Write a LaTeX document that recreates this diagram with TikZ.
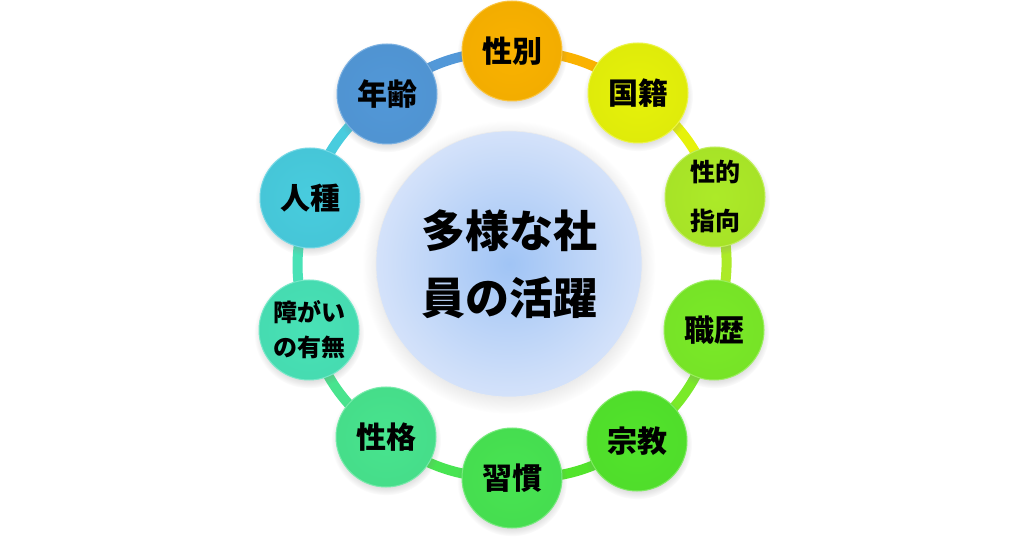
\documentclass[tikz,border=0pt]{standalone}
\usepackage{fontspec}
\newfontfamily\jp{Noto Sans CJK JP}
\usetikzlibrary{shadows}
\pgfdeclarelayer{background}
\pgfsetlayers{background,main}
\definecolor{cSeibetsu}{RGB}{250,178,0}
\definecolor{cKokuseki}{RGB}{230,242,10}
\definecolor{cSeiteki}{RGB}{172,234,40}
\definecolor{cShokureki}{RGB}{122,234,40}
\definecolor{cShukyo}{RGB}{82,228,44}
\definecolor{cShukan}{RGB}{72,228,82}
\definecolor{cSeikaku}{RGB}{72,228,142}
\definecolor{cShogai}{RGB}{72,226,182}
\definecolor{cJinshu}{RGB}{72,204,222}
\definecolor{cNenrei}{RGB}{82,152,216}
\definecolor{cCenterIn}{RGB}{160,196,245}
\definecolor{cCenterOut}{RGB}{212,226,250}
\tikzset{
  bub/.style={circle, minimum size=100pt, inner sep=0pt, align=center,
    font=\jp\bfseries\fontsize{30}{32}\selectfont,
    circular drop shadow={shadow xshift=0pt, shadow yshift=-3pt, opacity=0.25},
    shade, inner color=#1, outer color=#1!97!black,
    draw=#1!75!white, line width=1pt},
  link/.style={line width=10pt, draw=#1, bend left=18},
}
\begin{document}
\begin{tikzpicture}[x=1pt,y=1pt]
\useasboundingbox (0,0) rectangle (1024,538);
% center
\node[circle, minimum size=266pt, inner sep=0pt, align=center,
  shade, inner color=cCenterIn, outer color=cCenterOut, draw=white!85!gray, line width=0.6pt,
  circular drop shadow={shadow xshift=0pt, shadow yshift=-3pt, opacity=0.2},
  font=\jp\bfseries\fontsize{44}{67}\selectfont] (c) at (509,274) {多様な社\\員の活躍};
% ring nodes
\node[bub=cSeibetsu] (n1) at (512,487) {性別};
\node[bub=cKokuseki] (n2) at (638,445) {国籍};
\node[bub=cSeiteki, font=\jp\bfseries\fontsize{25}{49}\selectfont] (n3) at (715,341) {性的\\指向};
\node[bub=cShokureki] (n4) at (714,208) {職歴};
\node[bub=cShukyo] (n5) at (637,97) {宗教};
\node[bub=cShukan] (n6) at (512,60) {習慣};
\node[bub=cSeikaku] (n7) at (386,101) {性格};
\node[bub=cShogai, font=\jp\bfseries\fontsize{24}{35}\selectfont] (n8) at (309,208) {障がい\\の有無};
\node[bub=cJinshu] (n9) at (310,340) {人種};
\node[bub=cNenrei] (n10) at (387,444) {年齢};
% connectors
\begin{pgfonlayer}{background}
\fill[white] (0,0) rectangle (1024,538);
\draw[link=cSeibetsu] (n1.center) to (n2.center);
\draw[link=cKokuseki] (n2.center) to (n3.center);
\draw[link=cSeiteki] (n3.center) to (n4.center);
\draw[link=cShokureki] (n4.center) to (n5.center);
\draw[link=cShukyo] (n5.center) to (n6.center);
\draw[link=cShukan] (n6.center) to (n7.center);
\draw[link=cSeikaku] (n7.center) to (n8.center);
\draw[link=cShogai] (n8.center) to (n9.center);
\draw[link=cJinshu] (n9.center) to (n10.center);
\draw[link=cNenrei] (n10.center) to (n1.center);
\end{pgfonlayer}
\end{tikzpicture}
\end{document}
